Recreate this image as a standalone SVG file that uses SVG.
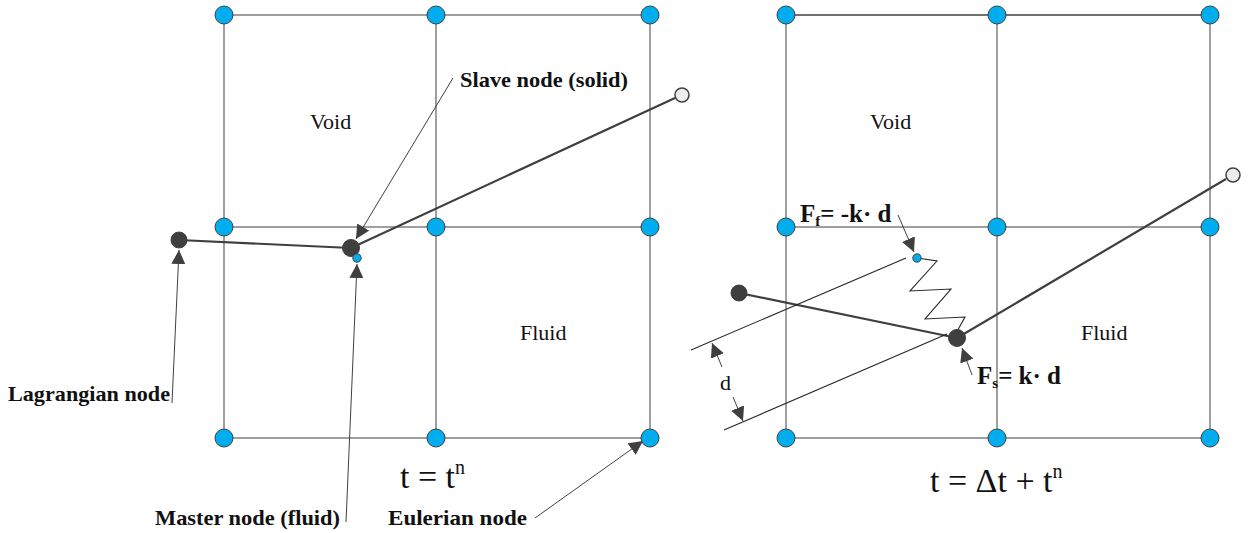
<svg xmlns="http://www.w3.org/2000/svg" width="1254" height="533" viewBox="0 0 1254 533">
<style>
.grid{stroke:#7f7f7f;stroke-width:1.5;fill:none}
.gridd{stroke:#404040;stroke-width:1.3;fill:none}
.en{fill:#00aeef;stroke:#404040;stroke-width:1}
.ln{fill:#3f3f3f;stroke:#3f3f3f;stroke-width:1}
.open{fill:#eeeeee;stroke:#404040;stroke-width:1.5}
.beam{stroke:#3f3f3f;stroke-width:2.2;fill:none}
.ptr{stroke:#404040;stroke-width:1;fill:none;marker-end:url(#ah)}
.thin{stroke:#262626;stroke-width:1.1;fill:none}
.lbl{font-family:"Liberation Serif",serif;font-weight:bold;font-size:22px;fill:#111}
.reg{font-family:"Liberation Serif",serif;font-size:22px;fill:#111}
.time{font-family:"Liberation Serif",serif;font-size:34px;fill:#111}
.force{font-family:"Liberation Serif",serif;font-weight:bold;font-size:25px;fill:#111}
</style>
<defs>
<marker id="ah" viewBox="0 0 10 10" refX="10" refY="5" markerWidth="14" markerHeight="14" markerUnits="userSpaceOnUse" orient="auto">
<path d="M0,0 L10,5 L0,10 z" fill="#3f3f3f"/>
</marker>
</defs>
<g id="left-grid">
<line class="grid" x1="224" y1="15" x2="650" y2="15"/>
<line class="grid" x1="224" y1="227" x2="650" y2="227"/>
<line class="grid" x1="224" y1="438" x2="650" y2="438"/>
<line class="grid" x1="224" y1="15" x2="224" y2="438"/>
<line class="grid" x1="436" y1="15" x2="436" y2="438"/>
<line class="grid" x1="650" y1="15" x2="650" y2="438"/>
</g>
<g id="right-grid">
<line class="gridd" x1="786" y1="15" x2="1210" y2="15"/>
<line class="grid" x1="786" y1="227" x2="1210" y2="227"/>
<line class="grid" x1="786" y1="438" x2="1210" y2="438"/>
<line class="grid" x1="786" y1="15" x2="786" y2="438"/>
<line class="grid" x1="997" y1="15" x2="997" y2="438"/>
<line class="grid" x1="1210" y1="15" x2="1210" y2="438"/>
</g>
<g id="connectors">
<line class="beam" x1="179" y1="240" x2="351" y2="248"/>
<line class="beam" x1="351" y1="248" x2="675" y2="98"/>
<line class="beam" x1="739" y1="293" x2="957" y2="338"/>
<line class="beam" x1="957" y1="338" x2="1226" y2="179"/>
<line class="ptr" x1="453" y1="78" x2="356" y2="239"/>
<line class="ptr" x1="172" y1="403" x2="179" y2="250"/>
<line class="ptr" x1="346" y1="522" x2="357" y2="264"/>
<line class="ptr" x1="535" y1="518" x2="643" y2="441"/>
<line class="ptr" x1="898" y1="215" x2="914" y2="252"/>
<line class="ptr" x1="972" y1="375" x2="962" y2="348"/>
<line class="thin" x1="691" y1="350" x2="906" y2="258"/>
<line class="thin" x1="724" y1="430" x2="947" y2="334"/>
<line class="ptr" x1="722" y1="367" x2="712" y2="343"/>
<line class="ptr" x1="733" y1="397" x2="743" y2="421"/>
<polyline class="thin" points="917,258 937,261 910,291 951,289 925,319 965,317 955,335"/>
</g>
<g id="eulerian-nodes">
<circle class="en" cx="224" cy="15" r="9"/>
<circle class="en" cx="436" cy="15" r="9"/>
<circle class="en" cx="650" cy="15" r="9"/>
<circle class="en" cx="224" cy="227" r="9"/>
<circle class="en" cx="436" cy="227" r="9"/>
<circle class="en" cx="650" cy="227" r="9"/>
<circle class="en" cx="224" cy="438" r="9"/>
<circle class="en" cx="436" cy="438" r="9"/>
<circle class="en" cx="650" cy="438" r="9"/>
<circle class="en" cx="786" cy="15" r="9"/>
<circle class="en" cx="997" cy="15" r="9"/>
<circle class="en" cx="1210" cy="15" r="9"/>
<circle class="en" cx="786" cy="227" r="9"/>
<circle class="en" cx="997" cy="227" r="9"/>
<circle class="en" cx="1210" cy="227" r="9"/>
<circle class="en" cx="786" cy="438" r="9"/>
<circle class="en" cx="997" cy="438" r="9"/>
<circle class="en" cx="1210" cy="438" r="9"/>
</g>
<g id="lagrangian-nodes">
<circle class="ln" cx="179" cy="240" r="8"/>
<circle class="ln" cx="351" cy="248" r="8.5"/>
<circle class="en" cx="357" cy="258" r="4.2"/>
<circle class="open" cx="682" cy="95" r="7"/>
<circle class="ln" cx="739" cy="293" r="8"/>
<circle class="ln" cx="957" cy="338" r="8.5"/>
<circle class="en" cx="917" cy="258" r="4.2"/>
<circle class="open" cx="1233" cy="175" r="7"/>
</g>
<g id="labels">
<text class="lbl" x="460" y="87" textLength="168" lengthAdjust="spacingAndGlyphs">Slave node (solid)</text>
<text class="lbl" x="8" y="401" textLength="162" lengthAdjust="spacingAndGlyphs">Lagrangian node</text>
<text class="lbl" x="155" y="525" textLength="185" lengthAdjust="spacingAndGlyphs">Master node (fluid)</text>
<text class="lbl" x="388" y="525" textLength="139" lengthAdjust="spacingAndGlyphs">Eulerian node</text>
<text class="reg" x="310" y="129">Void</text>
<text class="reg" x="520" y="340">Fluid</text>
<text class="reg" x="870" y="129">Void</text>
<text class="reg" x="1081" y="340">Fluid</text>
<text class="reg" x="720" y="390">d</text>
<text class="time" x="400" y="488">t = t<tspan font-size="20" dy="-14">n</tspan></text>
<text class="time" x="930" y="492">t = Δt + t<tspan font-size="20" dy="-14">n</tspan></text>
<text class="force" x="800" y="222">F<tspan font-size="15" dy="4">f</tspan><tspan dy="-4">= -k· d</tspan></text>
<text class="force" x="977" y="384">F<tspan font-size="15" dy="4">s</tspan><tspan dy="-4">= k· d</tspan></text>
</g>
</svg>
